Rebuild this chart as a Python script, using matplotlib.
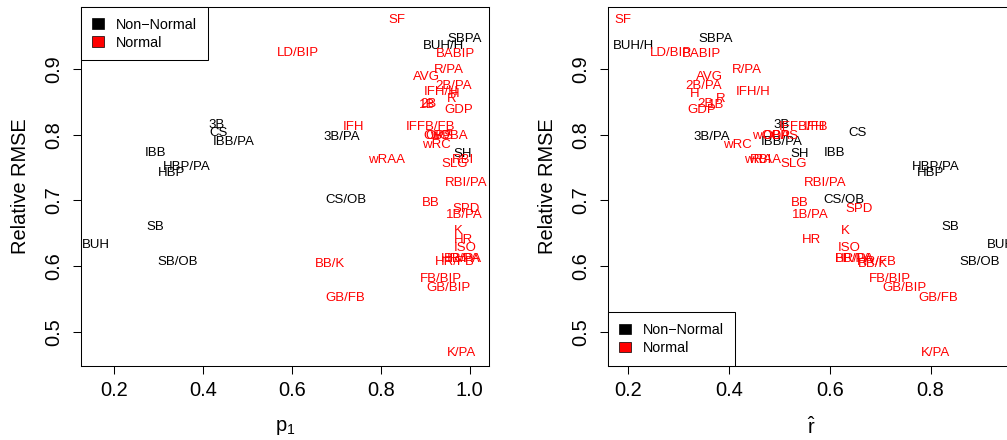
import matplotlib
matplotlib.use('Agg')
import matplotlib.pyplot as plt
from matplotlib.patches import Patch

# ---------------- data ----------------
labels = ["SBPA", "BUH/H", "3B", "CS", "IBB/PA", "3B/PA", "IBB", "HBP/PA", "HBP",
          "CS/OB", "SB", "BUH", "SB/OB", "SH",
          "SF", "LD/BIP", "BABIP", "R/PA", "AVG", "2B/PA", "IFH/H", "H", "R", "2B", "1B",
          "GDP", "IFH", "IFFB/FB", "OBP", "OPS", "wOBA", "wRC", "RBI", "wRAA", "SLG",
          "RBI/PA", "BB", "SPD", "1B/PA", "K", "HR", "ISO", "BB/PA", "HR/PA", "HR/FB",
          "BB/K", "FB/BIP", "GB/BIP", "GB/FB", "K/PA"]

p1 = [0.988, 0.940, 0.431, 0.436, 0.470, 0.713, 0.293, 0.364, 0.331,
      0.722, 0.293, 0.161, 0.343, 0.985,
      0.836, 0.615, 0.969, 0.953, 0.902, 0.964, 0.936, 0.966, 0.960, 0.907, 0.905,
      0.975, 0.739, 0.912, 0.928, 0.932, 0.953, 0.926, 0.984, 0.813, 0.966,
      0.991, 0.912, 0.991, 0.988, 0.974, 0.985, 0.990, 0.984, 0.980, 0.967,
      0.687, 0.935, 0.952, 0.721, 0.982]

rhat = [0.374, 0.211, 0.505, 0.654, 0.505, 0.366, 0.609, 0.811, 0.800,
        0.628, 0.840, 0.939, 0.897, 0.540,
        0.190, 0.284, 0.345, 0.436, 0.361, 0.349, 0.448, 0.332, 0.384, 0.352, 0.374,
        0.346, 0.570, 0.547, 0.494, 0.510, 0.483, 0.416, 0.463, 0.466, 0.529,
        0.590, 0.541, 0.658, 0.561, 0.631, 0.564, 0.639, 0.647, 0.650, 0.693,
        0.686, 0.719, 0.748, 0.816, 0.810]

rmse = [0.946, 0.935, 0.815, 0.803, 0.789, 0.797, 0.772, 0.751, 0.742,
        0.700, 0.660, 0.632, 0.606, 0.771,
        0.975, 0.924, 0.923, 0.898, 0.888, 0.874, 0.865, 0.862, 0.855, 0.847, 0.846,
        0.837, 0.812, 0.812, 0.798, 0.798, 0.798, 0.784, 0.762, 0.762, 0.755,
        0.727, 0.696, 0.687, 0.678, 0.653, 0.640, 0.628, 0.611, 0.611, 0.606,
        0.603, 0.580, 0.567, 0.552, 0.468]

normal = [0] * 14 + [1] * 36

legend_labels = ["Non\u2212Normal", "Normal"]
legend_colors = ["black", "red"]
x_ticks = [0.2, 0.4, 0.6, 0.8, 1.0]
y_ticks = [0.5, 0.6, 0.7, 0.8, 0.9]

# ---------------- style ----------------
plt.rcParams['font.family'] = ['Liberation Sans', 'DejaVu Sans']
plt.rcParams['mathtext.fontset'] = 'custom'
plt.rcParams['mathtext.rm'] = 'Liberation Sans'
plt.rcParams['mathtext.it'] = 'Liberation Sans:italic'

W, H = 1007, 440
fig = plt.figure(figsize=(W / 100, H / 100), dpi=100)


def pos(l, r, t, b):
    return [l / W, 1 - b / H, (r - l) / W, (b - t) / H]


ax1 = fig.add_axes(pos(81.2, 489.3, 6.7, 365.7))
ax2 = fig.add_axes(pos(608.3, 1015.7, 6.7, 365.7))

panels = [(ax1, p1, (0.127, 1.044), r'$\mathrm{p}_1$', 'upper left', (0, 1)),
          (ax2, rhat, (0.160, 0.969), r'$\hat{\mathrm{r}}$', 'lower left', (0, 0))]

for ax, xs, xlim, xlab, lloc, lanchor in panels:
    for lab, x, y, n in zip(labels, xs, rmse, normal):
        ax.text(x, y, lab, ha='center', va='center', fontsize=9.5,
                color=legend_colors[n])
    ax.set_xlim(*xlim)
    ax.set_ylim(0.4484, 0.995)
    ax.set_xticks([t for t in x_ticks if xlim[0] <= t <= xlim[1]])
    ax.set_yticks(y_ticks)
    ax.set_xticklabels([f"{t:.1f}" for t in ax.get_xticks()])
    ax.set_yticklabels([f"{t:.1f}" for t in y_ticks], rotation=90, va='center')
    ax.tick_params(direction='out', length=5.8, width=0.75, labelsize=14.4, colors='black')
    ax.tick_params(axis='x', pad=5.5)
    ax.tick_params(axis='y', pad=7.0)
    for s in ax.spines.values():
        s.set_linewidth(0.75)
        s.set_color('black')
    ax.set_xlabel(xlab, fontsize=14.4)
    ax.xaxis.set_label_coords(0.5, -62 / 359)
    ax.xaxis.label.set_va('center')
    ax.set_ylabel("Relative RMSE", fontsize=14.4)
    ax.yaxis.set_label_coords(-61 / 408, 0.5)
    ax.yaxis.label.set_va('center')
    handles = [Patch(facecolor=c, edgecolor='black', linewidth=0.5, label=l)
               for c, l in zip(legend_colors, legend_labels)]
    leg = ax.legend(handles=handles, loc=lloc, bbox_to_anchor=lanchor,
                    borderaxespad=0, fancybox=False, edgecolor='black', framealpha=1,
                    fontsize=10.4, handlelength=0.8, handleheight=0.7,
                    handletextpad=0.85, borderpad=0.75, labelspacing=0.28)
    leg.get_frame().set_linewidth(0.75)

fig.savefig('out.png', dpi=100)
